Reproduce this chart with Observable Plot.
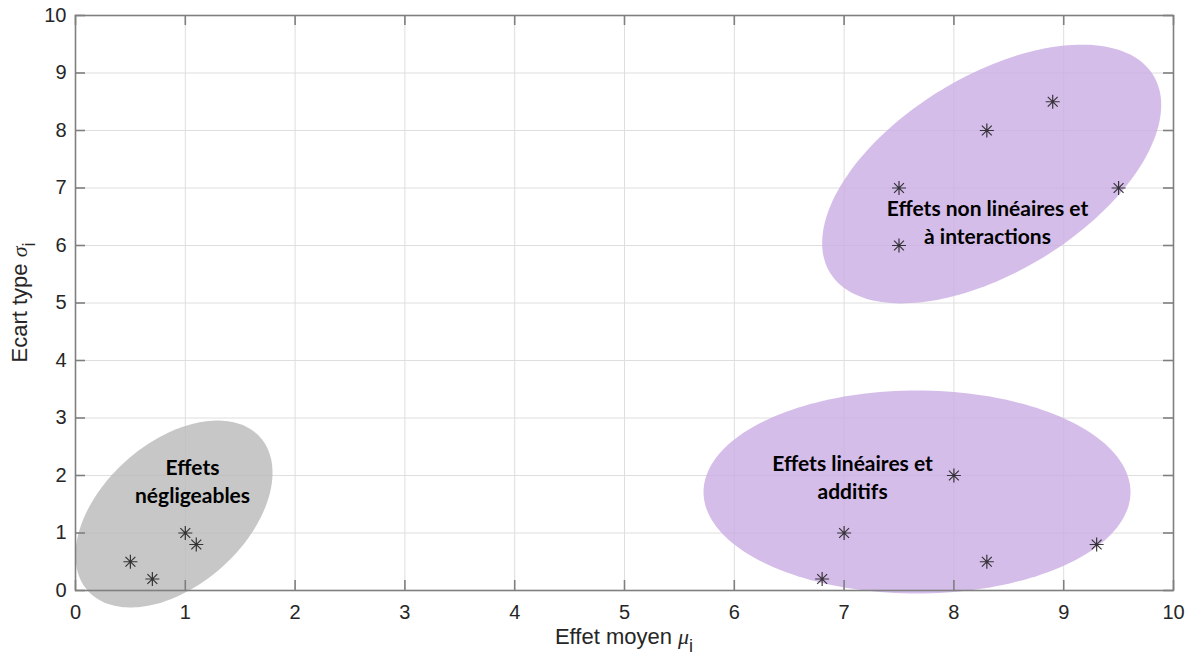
<!DOCTYPE html>
<html>
<head>
<meta charset="utf-8">
<script src="https://cdn.jsdelivr.net/npm/d3@7"></script>
<script src="https://cdn.jsdelivr.net/npm/@observablehq/plot@0.6"></script>
<style>
  html, body { margin: 0; padding: 0; background: #ffffff; }
</style>
</head>
<body>
<div id="chart"></div>
<script>
// ---- data ----
const xTicks = [0, 1, 2, 3, 4, 5, 6, 7, 8, 9, 10];
const yTicks = [0, 1, 2, 3, 4, 5, 6, 7, 8, 9, 10];

const negligibleMu    = [0.5, 0.7, 1.0, 1.1];
const negligibleSigma = [0.5, 0.2, 1.0, 0.8];

const linearMu    = [6.8, 7.0, 8.0, 8.3, 9.3];
const linearSigma = [0.2, 1.0, 2.0, 0.5, 0.8];

const nonlinearMu    = [7.5, 7.5, 8.3, 8.9, 9.5];
const nonlinearSigma = [7.0, 6.0, 8.0, 8.5, 7.0];

const groupLabels = ["Effets\nnégligeables", "Effets linéaires et\nadditifs", "Effets non linéaires et\nà interactions"];
const labelMu     = [1.066, 7.077, 8.306];
const labelSigma  = [1.923, 1.993, 6.428];

// ellipse centres (data units) for each group
const ellipseMu    = [0.897, 7.664, 8.344];
const ellipseSigma = [1.330, 1.713, 7.243];

// ---- layout / style ----
const W = 1189, H = 659;
const mL = 75, mR = 16, mT = 15, mB = 69;
const plotW = W - mL - mR, plotH = H - mT - mB;
const kx = plotW / 10, ky = plotH / 10;   // px per data unit

// ellipse shape (pixels): semi-axes and tilt
const ellipseShape = [
  {a: 115.4, b: 71.6, angle: 41.6, fill: "#b9b9b9"},
  {a: 213.5, b: 101.5, angle: 0,   fill: "#caace4"},
  {a: 189.4, b: 98.0, angle: 31.4, fill: "#caace4"}
];

function ellipsePoints(i) {
  const {a, b, angle} = ellipseShape[i];
  const th = angle * Math.PI / 180;
  const pts = [];
  for (let k = 0; k < 180; k++) {
    const t = 2 * Math.PI * k / 180;
    const dx = a * Math.cos(t) * Math.cos(th) - b * Math.sin(t) * Math.sin(th);
    const dy = a * Math.cos(t) * Math.sin(th) + b * Math.sin(t) * Math.cos(th);
    pts.push({x: ellipseMu[i] + dx / kx, y: ellipseSigma[i] + dy / ky});
  }
  return pts;
}

const points = [];
negligibleMu.forEach((m, i) => points.push({mu: m, sigma: negligibleSigma[i]}));
linearMu.forEach((m, i) => points.push({mu: m, sigma: linearSigma[i]}));
nonlinearMu.forEach((m, i) => points.push({mu: m, sigma: nonlinearSigma[i]}));

const labels = groupLabels.map((t, i) => ({text: t, mu: labelMu[i], sigma: labelSigma[i]}));

const asterisk = {
  draw(ctx, size) {
    const r = Math.sqrt(size / Math.PI);
    const d = r * Math.SQRT1_2;
    ctx.moveTo(-r, 0); ctx.lineTo(r, 0);
    ctx.moveTo(0, -r); ctx.lineTo(0, r);
    ctx.moveTo(-d, -d); ctx.lineTo(d, d);
    ctx.moveTo(-d, d); ctx.lineTo(d, -d);
  }
};

const axisColor = "#7f7f7f";
const textColor = "#262626";

const chart = Plot.plot({
  width: W,
  height: H,
  marginLeft: mL,
  marginRight: mR,
  marginTop: mT,
  marginBottom: mB,
  style: {fontFamily: "'Liberation Sans', Arial, sans-serif", fontSize: "20px", background: "#ffffff", color: textColor},
  x: {domain: [0, 10], ticks: xTicks},
  y: {domain: [0, 10], ticks: yTicks},
  marks: [
    Plot.gridX(xTicks, {stroke: "#dedede", strokeOpacity: 1}),
    Plot.gridY(yTicks, {stroke: "#dedede", strokeOpacity: 1}),
    ...[0, 1, 2].map(i => Plot.line(ellipsePoints(i), {
      x: "x", y: "y", curve: "linear-closed",
      fill: ellipseShape[i].fill, fillOpacity: 0.8, stroke: "none"
    })),
    Plot.frame({stroke: axisColor, strokeWidth: 1.6}),
    Plot.tickX(xTicks, {x: d => d, insetTop: plotH - 10, stroke: axisColor, strokeWidth: 1.6}),
    Plot.tickX(xTicks, {x: d => d, insetBottom: plotH - 10, stroke: axisColor, strokeWidth: 1.6}),
    Plot.tickY(yTicks, {y: d => d, insetRight: plotW - 10, stroke: axisColor, strokeWidth: 1.6}),
    Plot.tickY(yTicks, {y: d => d, insetLeft: plotW - 10, stroke: axisColor, strokeWidth: 1.6}),
    Plot.axisX(xTicks, {tickSize: 0, tickPadding: 14, label: null, fontSize: 20, color: textColor, tickFormat: d => String(d)}),
    Plot.axisY(yTicks, {tickSize: 0, tickPadding: 9, label: null, fontSize: 20, color: textColor, tickFormat: d => String(d)}),
    Plot.dot(points, {x: "mu", y: "sigma", symbol: asterisk, r: 7, fill: "none",
      stroke: "#1a1a1a", strokeOpacity: 0.85, strokeWidth: 1.2}),
    Plot.text(labels, {x: "mu", y: "sigma", text: "text", textAnchor: "middle", lineAnchor: "middle",
      lineHeight: 1.35, fontFamily: "Lato, 'Open Sans', sans-serif", fontWeight: 700, fontSize: 21, fill: "#000000"})
  ]
});

document.getElementById("chart").appendChild(chart);

// axis titles with Greek symbols and subscripts
const svg = d3.select(chart);
const xl = svg.append("text")
  .attr("x", mL + plotW / 2).attr("y", 644)
  .attr("text-anchor", "middle")
  .attr("fill", textColor)
  .style("font-family", "'Liberation Sans', Arial, sans-serif")
  .style("font-size", "22px")
  .text("Effet moyen ");
xl.append("tspan").style("font-family", "'Liberation Serif', serif").style("font-style", "italic").text("μ");
xl.append("tspan").attr("dy", 8).style("font-size", "18px").text("i");

const yl = svg.append("text")
  .attr("transform", `translate(27,${mT + plotH / 2}) rotate(-90)`)
  .attr("text-anchor", "middle")
  .attr("fill", textColor)
  .style("font-family", "'Liberation Sans', Arial, sans-serif")
  .style("font-size", "22px")
  .text("Ecart type ");
yl.append("tspan").style("font-family", "'Liberation Serif', serif").style("font-style", "italic").text("σ");
yl.append("tspan").attr("dy", 8).style("font-size", "18px").text("i");
</script>
</body>
</html>
